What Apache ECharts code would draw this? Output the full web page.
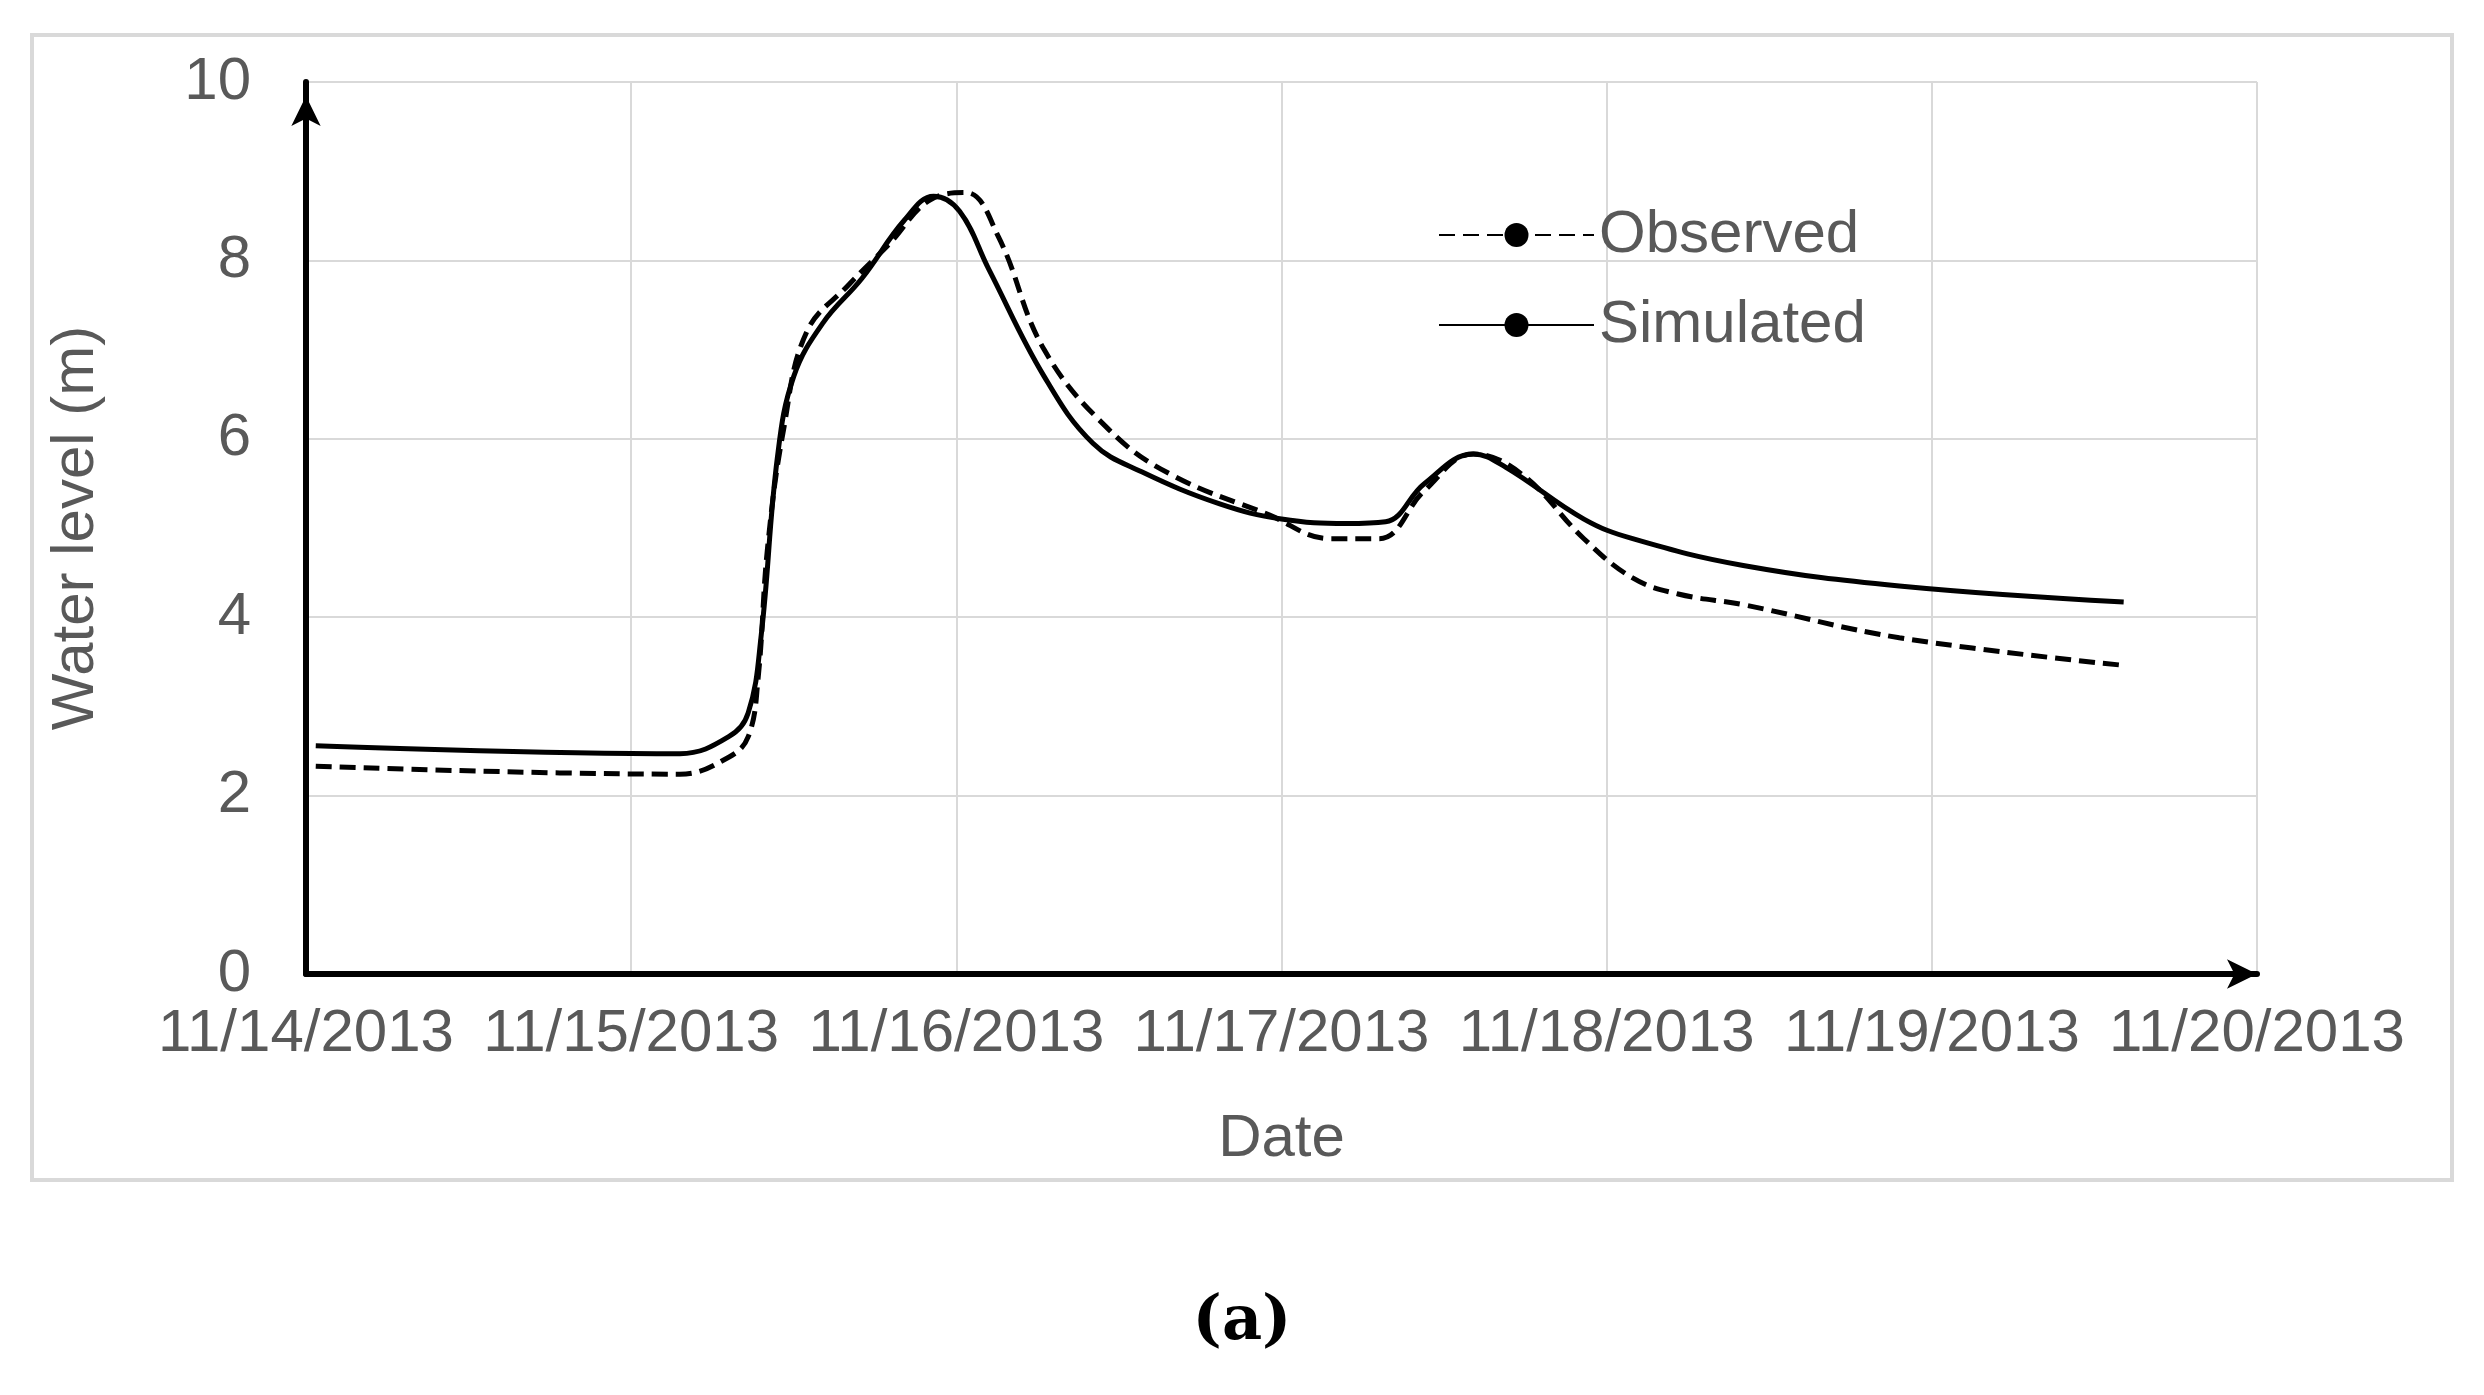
<!DOCTYPE html>
<html><head><meta charset="utf-8">
<script src="https://cdn.jsdelivr.net/npm/echarts@6/dist/echarts.min.js"></script>
<style>html,body{margin:0;background:#fff}#c{width:2484px;height:1395px}</style>
</head><body><div id="c"></div>
<script>
// days since 11/14/2013
var dateLabels = ['11/14/2013', '11/15/2013', '11/16/2013', '11/17/2013', '11/18/2013', '11/19/2013', '11/20/2013'];
var simulated = [[0.03,2.56],[1.15,2.47],[1.30,2.66],[1.36,2.93],[1.40,3.8],[1.45,5.8],[1.50,6.7],[1.59,7.3],[1.71,7.8],[1.84,8.45],[1.93,8.72],[2.01,8.55],[2.10,7.9],[2.27,6.7],[2.42,5.95],[2.57,5.63],[2.81,5.27],[3.0,5.1],[3.2,5.05],[3.32,5.07],[3.44,5.5],[3.59,5.83],[3.69,5.68],[3.93,5.1],[4.08,4.88],[4.42,4.58],[4.9,4.35],[5.59,4.17]];
var observed = [[0.03,2.33],[1.15,2.24],[1.30,2.43],[1.36,2.66],[1.39,3.3],[1.42,4.8],[1.47,6.13],[1.54,7.2],[1.67,7.73],[1.79,8.17],[1.93,8.7],[2.03,8.76],[2.13,8.26],[2.27,7.0],[2.47,6.1],[2.66,5.6],[2.96,5.15],[3.15,4.88],[3.30,4.88],[3.44,5.42],[3.59,5.83],[3.74,5.6],[3.93,4.88],[4.08,4.44],[4.22,4.26],[4.42,4.14],[4.9,3.77],[5.59,3.46]];

var grey = '#595959';
var font = 'Liberation Sans, Arial, sans-serif';
var chart = echarts.init(document.getElementById('c'));
chart.setOption({
  animation: false,
  graphic: [
    { type: 'rect', shape: { x: 32, y: 35, width: 2420, height: 1145 }, style: { fill: 'none', stroke: '#d9d9d9', lineWidth: 4 } },
    { type: 'text', x: 1242, y: 1323, style: { text: '(a)', font: 'bold 62px "DejaVu Serif", serif', fill: '#000', align: 'center', verticalAlign: 'middle' } }
  ],
  legend: {
    data: ['Observed', 'Simulated'],
    orient: 'vertical',
    left: 1433, top: 200,
    itemWidth: 155, itemHeight: 30, itemGap: 30,
    textStyle: { color: grey, fontSize: 60, fontFamily: font }
  },
  grid: { left: 306, right: 227, top: 82, bottom: 421 },
  xAxis: {
    type: 'value', min: 0, max: 6, interval: 1,
    name: 'Date', nameLocation: 'middle', nameGap: 135,
    nameTextStyle: { color: grey, fontSize: 60, fontFamily: font },
    axisLine: { lineStyle: { color: '#000', width: 6 }, symbol: ['none', 'arrow'], symbolSize: [22, 30], symbolOffset: [0, 0] },
    axisTick: { show: false },
    axisLabel: { color: grey, fontSize: 60, fontFamily: font, margin: 30, formatter: function (v) { return dateLabels[v]; } },
    splitLine: { show: true, lineStyle: { color: '#d9d9d9', width: 2 } }
  },
  yAxis: {
    type: 'value', min: 0, max: 10, interval: 2,
    name: 'Water level (m)', nameLocation: 'middle', nameGap: 200,
    nameTextStyle: { color: grey, fontSize: 60, fontFamily: font },
    axisLine: { show: true, lineStyle: { color: '#000', width: 6 }, symbol: ['none', 'arrow'], symbolSize: [22, 30], symbolOffset: [0, -14] },
    axisTick: { show: false },
    axisLabel: { color: grey, fontSize: 60, fontFamily: font, margin: 55 },
    splitLine: { lineStyle: { color: '#d9d9d9', width: 2 } }
  },
  series: [
    { name: 'Observed', type: 'line', data: observed, smooth: 0.4, showSymbol: false, symbol: 'none',
      lineStyle: { color: '#000', width: 5, type: [16, 8] }, itemStyle: { color: '#000' } },
    { name: 'Simulated', type: 'line', data: simulated, smooth: 0.4, showSymbol: false, symbol: 'none',
      lineStyle: { color: '#000', width: 5 }, itemStyle: { color: '#000' } }
  ]
});
</script></body></html>
